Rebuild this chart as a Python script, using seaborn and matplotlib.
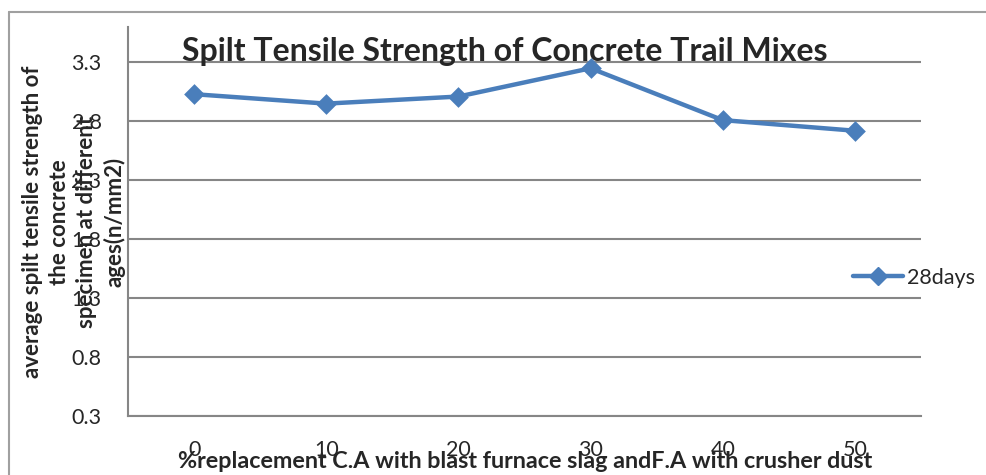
import matplotlib
matplotlib.use("Agg")
import matplotlib.pyplot as plt
import seaborn as sns
from matplotlib.lines import Line2D
from matplotlib.ticker import FixedLocator

# values
replacement = ["0", "10", "20", "30", "40", "50"]
strength_28days = [3.03, 2.95, 3.01, 3.25, 2.81, 2.72]
y_ticks = [0.3, 0.8, 1.3, 1.8, 2.3, 2.8, 3.3]

blue = "#4A7EBB"
grey = "#868686"

sns.set_style("white")
plt.rcParams["font.family"] = ["Lato", "DejaVu Sans"]

fig = plt.figure(figsize=(9.87, 4.75), dpi=100)
ax = fig.add_axes([128 / 987, 1 - 416 / 475, (921 - 128) / 987, (416 - 27) / 475])

sns.pointplot(x=replacement, y=strength_28days, ax=ax, color=blue,
              markers="D", linestyles="-", markersize=8, linewidth=3.2,
              errorbar=None)

ax.set_ylim(0.3, 3.6)
ax.set_xlim(-0.5, len(replacement) - 0.5)
ax.set_yticks(y_ticks)
ax.set_yticklabels([str(v) for v in y_ticks], fontsize=15.5)
ax.set_xticks(range(len(replacement)))
ax.set_xticklabels(replacement, fontsize=15.5)
ax.xaxis.set_minor_locator(FixedLocator([i - 0.5 for i in range(len(replacement) + 1)]))
ax.tick_params(axis="x", which="major", length=0, pad=17)
ax.tick_params(axis="x", which="minor", length=7, width=1.5, color=grey, direction="out")
ax.tick_params(axis="y", length=7, width=1.5, color=grey, direction="out", pad=12)
ax.yaxis.grid(True, color=grey, linewidth=1.5)
ax.set_axisbelow(True)
for side in ["top", "right"]:
    ax.spines[side].set_visible(False)
for side in ["left", "bottom"]:
    ax.spines[side].set_color(grey)
    ax.spines[side].set_linewidth(1.5)
ax.set_xlabel("")
ax.set_ylabel("")

fig.text(505 / 987, 1 - 52 / 475, "Spilt Tensile Strength of Concrete Trail Mixes",
         ha="center", va="center", fontsize=23, fontweight="bold")
fig.text(525 / 987, 1 - 461 / 475,
         "%replacement C.A with blast furnace slag andF.A with crusher dust",
         ha="center", va="center", fontsize=16.8, fontweight="bold")
fig.text(74 / 987, 1 - 222 / 475,
         "average spilt tensile strength of\nthe concrete\nspecimen at different\nages(n/mm2)",
         ha="center", va="center", rotation=90, fontsize=16, fontweight="bold",
         multialignment="center", linespacing=1.35)

handle = Line2D([], [], color=blue, marker="D", markersize=9, linewidth=3.2)
fig.legend([handle], ["28days"], loc="center left", bbox_to_anchor=(834 / 987, 1 - 278 / 475),
           frameon=False, fontsize=15.5, handlelength=2.3, handletextpad=0.2)

# outer chart frame (top and left edges visible)
fig.add_artist(Line2D([9 / 987, 9 / 987], [0, 1 - 12 / 475], color="#A0A0A0", linewidth=1.5))
fig.add_artist(Line2D([9 / 987, 1], [1 - 12 / 475, 1 - 12 / 475], color="#A0A0A0", linewidth=1.5))

fig.savefig("out.png", dpi=100)
